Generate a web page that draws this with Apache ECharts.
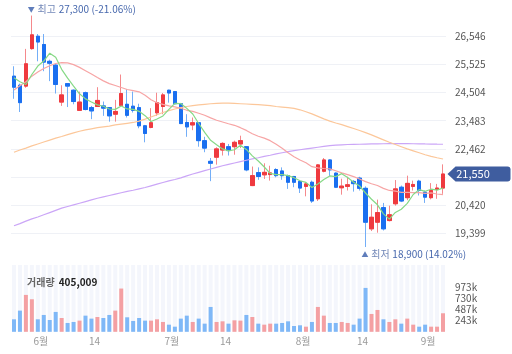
<!DOCTYPE html>
<html><head><meta charset="utf-8">
<script src="https://cdn.jsdelivr.net/npm/echarts@6/dist/echarts.min.js"></script>
<style>html,body{margin:0;padding:0;background:#fff}#c{width:512px;height:354px}</style>
</head><body><div id="c"></div>
<script>
// ---------- data ----------
const categories = ['05-26','05-27','05-28','05-31',
 '06-01','06-02','06-03','06-04','06-07','06-08','06-09','06-10','06-11','06-14','06-15','06-16','06-17','06-18','06-21','06-22','06-23','06-24','06-25','06-28','06-29','06-30',
 '07-01','07-02','07-05','07-06','07-07','07-08','07-09','07-12','07-13','07-14','07-15','07-16','07-19','07-20','07-21','07-22','07-23','07-26','07-27','07-28','07-29','07-30',
 '08-02','08-03','08-04','08-05','08-06','08-09','08-10','08-11','08-12','08-13','08-17','08-18','08-19','08-20','08-23','08-24','08-25','08-26','08-27','08-30','08-31',
 '09-01','09-02','09-03','09-06'];
const tickIndex = [4, 13, 26, 35, 48, 58, 69];
const tickText  = ['6월', '14', '7월', '14', '8월', '14', '9월'];
// [open, close, low, high]
const ohlc = [
 [25100,24700,24280,25460],[24770,24140,23800,24830],[24740,25550,24680,26090],[26100,26600,26060,27300],
 [26550,26340,25640,26630],[26250,25610,25280,26630],[25640,25570,24920,25700],[25500,24800,24470,25550],
 [24160,24420,24020,24770],[24830,24740,23980,24850],[24590,24180,24080,24620],[23860,24160,23840,24540],
 [24500,23890,23860,24540],[23960,23840,23540,24020],[24000,24220,23980,24700],[24020,23940,23660,24180],
 [23960,23660,23450,23980],[23720,23820,23450,24240],[24040,24470,24020,25160],[24080,23680,23600,24620],
 [24010,23860,23780,24540],[23960,23300,23210,24100],[23300,23020,22700,23330],[23240,23410,23210,23940],
 [23770,24140,23660,24500],[24000,24420,23720,24490],[24590,24490,24140,24610],[24540,24100,24080,24560],
 [24100,23380,23360,24130],[23420,23260,22900,23720],[23330,23410,23140,23600],[23410,22760,22540,23430],
 [22760,22490,22340,22900],[22010,21940,21290,22130],[22160,22460,21890,22520],[22420,22660,22220,22700],
 [22540,22400,22220,22640],[22540,22700,22250,22760],[22640,22760,22490,22940],[22540,21700,21650,22560],
 [21130,21490,21110,21820],[21600,21460,21340,21790],[21520,21610,21370,21940],[21530,21590,21310,21850],
 [21710,21490,21430,21760],[21660,21490,21340,21790],[21490,21250,21010,21530],[21460,21250,21070,21480],
 [21280,21040,20860,21310],[21100,21190,20740,21250],[21250,20570,20500,21310],[20650,21880,20570,21910],
 [21650,22060,21610,22130],[22060,21700,21480,22080],[21580,21070,21040,21610],[21050,21110,20800,21380],
 [21100,21160,20950,21450],[21280,21200,20910,21330],[21400,21030,20950,21450],[21030,19800,18900,21100],
 [19560,19980,19480,20450],[19800,20150,19420,20620],[20330,19560,19500,20500],[19860,20070,19830,20400],
 [20470,21010,20400,21330],[21070,20570,20530,21130],[20690,21210,20600,21490],[21100,21170,20950,21310],
 [21290,20950,20770,21340],[20890,20710,20500,20950],[20690,20950,20630,21220],[20990,21040,20650,21190],
 [21040,21550,20830,21900]
];
const volumes = [273000,463000,806000,711000,273000,368000,258000,434000,302000,193000,215000,244000,353000,288000,324000,302000,368000,463000,945000,317000,
 237000,302000,244000,244000,273000,215000,156000,112000,288000,353000,215000,288000,178000,543000,215000,229000,178000,251000,244000,368000,
 324000,178000,156000,178000,178000,193000,229000,127000,142000,112000,215000,543000,353000,193000,193000,215000,193000,156000,288000,959000,
 390000,477000,273000,215000,273000,178000,288000,156000,112000,156000,112000,112000,405009];
const ma5 = [25040,24900,24800,25160,25468,25649,25935,25786,25348,25028,24742,24460,24277,24161,24058,24010,23909,23895,24020,23912,
 23897,23825,23666,23454,23546,23656,23895,24111,24106,23931,23729,23382,23060,22771,22610,22461,22389,22429,22593,22441,
 22208,22020,21804,21571,21530,21530,21489,21417,21306,21246,21061,21186,21347,21479,21455,21563,21420,21248,21114,20860,
 20634,20432,20104,19912,20154,20272,20484,20806,20982,20922,20998,20964,21040];
const ma20 = [24600,24750,24900,25100,25250,25380,25480,25560,25590,25580,25520,25420,25300,25180,25050,24930,24830,24760,24690,
 24616,24574,24532,24406,24246,24136,24076,24022,23987,23935,23862,23823,23753,23683,23588,23499,23436,23373,23317,23231,
 23132,23013,22921,22851,22760,22628,22482,22320,22177,22060,21957,21815,21771,21749,21737,21668,21591,21529,21454,21368,
 21273,21197,21132,21029,20953,20929,20883,20880,20876,20872,20848,20867,20825,20799];
const ma60 = [22340,22420,22490,22570,22640,22710,22780,22850,22910,22980,23040,23100,23150,23190,23230,23260,23290,23330,23360,23390,
 23420,23470,23540,23620,23700,23780,23850,23910,23960,24000,24030,24060,24080,24100,24110,24120,24120,24110,24100,24090,
 24080,24070,24050,24030,24000,23980,23960,23930,23880,23810,23730,23640,23550,23470,23400,23340,23270,23200,23130,23050,
 22970,22880,22790,22700,22620,22540,22460,22390,22320,22250,22190,22140,22095];
const ma120 = [19670,19750,19840,19920,19990,20070,20150,20230,20310,20370,20430,20490,20550,20610,20670,20720,20770,20820,20870,20920,
 20960,21010,21060,21120,21180,21240,21300,21350,21410,21480,21550,21610,21670,21730,21790,21850,21900,21950,22000,22050,
 22100,22140,22190,22230,22280,22320,22360,22400,22430,22460,22490,22520,22550,22580,22600,22610,22620,22625,22630,22635,
 22640,22645,22648,22650,22650,22650,22650,22648,22645,22640,22636,22632,22630];
const priceTicks = {min: 18378, max: 27567, interval: 1021, hidden: [21441]};
const volTicks = {min: 0, max: 1459500, interval: 243250};
const highInfo = {index: 3, value: 27300, text: '27,300 (-21.06%)'};
const lowInfo = {index: 59, value: 18900, text: '18,900 (14.02%)'};
const lastPrice = {index: 72, value: 21550, text: '21,550'};
const lastVolumeText = '405,009';

// ---------- chart ----------
const FONT = "'Noto Sans CJK KR','Noto Sans',sans-serif";
const UP = '#ef3a3f', DOWN = '#1a6ff0', UPW = '#f5898c', DOWNW = '#73aef7';
const VUP = '#f4a0a3', VDOWN = '#7fb8f7';
const bodies = ohlc.map(d => [d[0], d[1], Math.min(d[0], d[1]), Math.max(d[0], d[1])]);
const labelMap = {};
tickIndex.forEach((k, i) => labelMap[k] = tickText[i]);

const chart = echarts.init(document.getElementById('c'));
chart.setOption({
  animation: false,
  textStyle: {fontFamily: FONT},
  title: {
    text: '{a|거래량} {b|' + lastVolumeText + '}', left: 22, top: 268,
    textStyle: {rich: {a: {fontSize: 10, color: '#666', fontFamily: FONT}, b: {fontSize: 10, color: '#222', fontWeight: 'bold', fontFamily: FONT}}}
  },
  grid: [
    {left: 11, right: 66, top: 8.2, height: 253.2},
    {left: 11, right: 66, top: 265, height: 66.8}
  ],
  xAxis: [
    {type: 'category', gridIndex: 0, data: categories, show: false},
    {type: 'category', gridIndex: 1, data: categories,
     axisLine: {show: false}, axisTick: {show: false},
     axisLabel: {interval: 0, color: '#999', fontSize: 10, margin: 4, padding: [0, 0, 0, 6],
       formatter: (v, i) => labelMap[i] || ''}}
  ],
  yAxis: [
    {type: 'value', gridIndex: 0, position: 'right', min: priceTicks.min, max: priceTicks.max, interval: priceTicks.interval,
     axisLine: {show: false}, axisTick: {show: false},
     splitLine: {lineStyle: {color: '#eff1f6'}, showMinLine: false, showMaxLine: false},
     axisLabel: {color: '#555', fontSize: 10, margin: 9, showMinLabel: false, showMaxLabel: false,
       formatter: v => priceTicks.hidden.includes(v) ? '' : v.toLocaleString('en-US')}},
    {type: 'value', gridIndex: 1, position: 'right', min: volTicks.min, max: volTicks.max, interval: volTicks.interval,
     axisLine: {show: false}, axisTick: {show: false}, splitLine: {show: false},
     axisLabel: {color: '#555', fontSize: 10, margin: 9,
       formatter: v => (v > 0 && v < 1000000) ? Math.round(v / 1000) + 'k' : ''}}
  ],
  series: [
    {type: 'line', data: ma120, xAxisIndex: 0, yAxisIndex: 0, showSymbol: false, lineStyle: {color: '#cba6f7', width: 1.2}, silent: true},
    {type: 'line', data: ma60, xAxisIndex: 0, yAxisIndex: 0, showSymbol: false, lineStyle: {color: '#fcc79a', width: 1.2}, silent: true},
    {type: 'line', data: ma20, xAxisIndex: 0, yAxisIndex: 0, showSymbol: false, lineStyle: {color: '#f7a5a5', width: 1.2}, silent: true},
    {type: 'line', data: ma5, xAxisIndex: 0, yAxisIndex: 0, showSymbol: false, lineStyle: {color: '#86d986', width: 1.2}, silent: true},
    {type: 'candlestick', data: ohlc, xAxisIndex: 0, yAxisIndex: 0, barWidth: 4,
     itemStyle: {color: UPW, color0: DOWNW, borderColor: UPW, borderColor0: DOWNW, borderWidth: 1}},
    {type: 'candlestick', data: bodies, xAxisIndex: 0, yAxisIndex: 0, barWidth: 4,
     itemStyle: {color: UP, color0: DOWN, borderColor: UP, borderColor0: DOWN, borderWidth: 1},
     markPoint: {
       silent: true, animation: false,
       data: [
         {coord: [highInfo.index, highInfo.value], symbolSize: 0,
          label: {show: true, position: 'right', distance: 0, offset: [-4, -6],
            formatter: '{s|▼} {t|최고} {v|' + highInfo.text + '}',
            rich: {s: {fontSize: 7, color: '#5f7dbb'}, t: {fontSize: 10, color: '#7388b8', fontFamily: FONT}, v: {fontSize: 10, color: '#4768ad', fontFamily: FONT}}}},
         {coord: [lowInfo.index, lowInfo.value], symbolSize: 0,
          label: {show: true, position: 'right', distance: 0, offset: [-4, 7],
            formatter: '{s|▲} {t|최저} {v|' + lowInfo.text + '}',
            rich: {s: {fontSize: 7, color: '#5f7dbb'}, t: {fontSize: 10, color: '#7388b8', fontFamily: FONT}, v: {fontSize: 10, color: '#4768ad', fontFamily: FONT}}}},
         {coord: [lastPrice.index, lastPrice.value],
          symbol: 'path://M0,7.5 L8,0 L60,0 Q63,0 63,3 L63,12 Q63,15 60,15 L8,15 Z',
          symbolSize: [63, 15], symbolOffset: [36, 0], symbolKeepAspect: false,
          itemStyle: {color: '#3f5d9f'},
          label: {show: true, position: 'inside', offset: [-6, 0], color: '#fff', fontSize: 11, formatter: lastPrice.text}}
       ]
     }},
    {type: 'bar', xAxisIndex: 1, yAxisIndex: 1, barWidth: 4,
     showBackground: true, backgroundStyle: {color: '#f4f6fc'},
     data: volumes.map((v, i) => ({value: v, itemStyle: {color: ohlc[i][1] >= ohlc[i][0] ? VUP : VDOWN}}))}
  ]
});
</script>
</body></html>
